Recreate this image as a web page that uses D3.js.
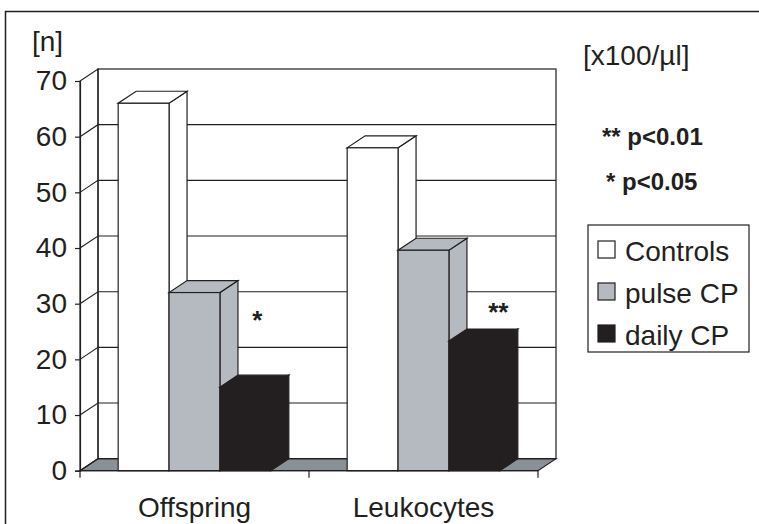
<!DOCTYPE html>
<html>
<head>
<meta charset="utf-8">
<script src="https://cdn.jsdelivr.net/npm/d3@7"></script>
<style>
body { margin: 0; background: #fff; }
text { font-family: "Liberation Sans", Arial, sans-serif; fill: #231f20; }
</style>
</head>
<body>
<div id="chart-area"></div>
<script>
// data
let categories = ["Offspring", "Leukocytes"];
let seriesNames = ["Controls", "pulse CP", "daily CP"];
let controls = [66, 58];
let pulseCP = [32, 39.6];
let dailyCP = [15, 23.3];
let stars = ["*", "**"];
let yTicks = [0, 10, 20, 30, 40, 50, 60, 70];

let colors = ["#ffffff", "#b4bac0", "#231f20"];
let series = [controls, pulseCP, dailyCP];

let width = 759, height = 524;
let depthX = 18, depthY = -12;

let svg = d3.select("#chart-area").append("svg")
	.attr("width", width)
	.attr("height", height);

// outer frame (top and left edges visible)
svg.append("path")
	.attr("d", "M5.5,524 L5.5,11.5 L759,11.5")
	.attr("fill", "none")
	.attr("stroke", "#231f20")
	.attr("stroke-width", 1.5);

let y = d3.scaleLinear().domain([0, 70]).range([470.7, 81]);
let x = d3.scaleBand().domain(categories).range([80, 538]).paddingInner(0).paddingOuter(0);

let barW = x.bandwidth() / 4.5;
let gap = barW * 0.75;

let x0 = x.range()[0], x1 = x.range()[1];
let yTop = y(70), yBot = y(0);

// floor
svg.append("polygon")
	.attr("points", [[x0, yBot], [x1, yBot], [x1 + depthX, yBot + depthY], [x0 + depthX, yBot + depthY]].join(" "))
	.attr("fill", "#8a9196")
	.attr("stroke", "#231f20")
	.attr("stroke-width", 1.2);

// back wall and side wall
svg.append("rect")
	.attr("x", x0 + depthX)
	.attr("y", yTop + depthY)
	.attr("width", x1 - x0)
	.attr("height", yBot - yTop)
	.attr("fill", "none")
	.attr("stroke", "#231f20")
	.attr("stroke-width", 1.2);

svg.append("polygon")
	.attr("points", [[x0, yBot], [x0, yTop], [x0 + depthX, yTop + depthY], [x0 + depthX, yBot + depthY]].join(" "))
	.attr("fill", "none")
	.attr("stroke", "#231f20")
	.attr("stroke-width", 1.2);

// gridlines on both walls
svg.selectAll(".grid").data(yTicks.slice(1, -1)).enter()
	.append("polyline")
	.attr("class", "grid")
	.attr("points", d => [[x0, y(d)], [x0 + depthX, y(d) + depthY], [x1 + depthX, y(d) + depthY]].join(" "))
	.attr("fill", "none")
	.attr("stroke", "#231f20")
	.attr("stroke-width", 1.1);

// bars, drawn left to right so later fronts cover earlier sides
let bars = [];
categories.forEach((c, i) => {
	series.forEach((s, j) => {
		bars.push({cat: c, v: s[i], k: j});
	});
});

let barG = svg.selectAll(".bar").data(bars).enter()
	.append("g")
	.attr("class", "bar");

barG.each(function(d) {
	let g = d3.select(this);
	let left = x(d.cat) + gap + d.k * barW;
	let right = left + barW;
	let top = y(d.v);
	let fill = colors[d.k];

	g.append("polygon")
		.attr("points", [[right, yBot], [right, top], [right + depthX, top + depthY], [right + depthX, yBot + depthY]].join(" "))
		.attr("fill", fill)
		.attr("stroke", "#231f20")
		.attr("stroke-width", 1.2);

	g.append("polygon")
		.attr("points", [[left, top], [right, top], [right + depthX, top + depthY], [left + depthX, top + depthY]].join(" "))
		.attr("fill", fill)
		.attr("stroke", "#231f20")
		.attr("stroke-width", 1.2);

	g.append("rect")
		.attr("x", left)
		.attr("y", top)
		.attr("width", barW)
		.attr("height", yBot - top)
		.attr("fill", fill)
		.attr("stroke", "#231f20")
		.attr("stroke-width", 1.2);
});

// y axis
let yAxis = d3.axisLeft(y).tickValues(yTicks).tickSize(5).tickPadding(8);
let yg = svg.append("g")
	.attr("transform", "translate(" + x0 + ",0)")
	.call(yAxis);
yg.select(".domain").attr("stroke", "#231f20").attr("stroke-width", 1.2);
yg.selectAll(".tick line").attr("stroke", "#231f20").attr("stroke-width", 1.2);
yg.selectAll(".tick text")
	.style("font-size", "28px")
	.attr("fill", "#231f20")
	.attr("font-family", null);

// x axis
let xg = svg.append("g")
	.attr("transform", "translate(0," + yBot + ")");
xg.append("line")
	.attr("x1", x0).attr("x2", x1)
	.attr("stroke", "#231f20").attr("stroke-width", 1.2);
let edges = categories.map(c => x(c)).concat([x1]);
xg.selectAll(".xtick").data(edges).enter()
	.append("line")
	.attr("x1", d => d).attr("x2", d => d)
	.attr("y1", 0).attr("y2", 7)
	.attr("stroke", "#231f20").attr("stroke-width", 1.2);
xg.selectAll(".xlabel").data(categories).enter()
	.append("text")
	.attr("x", d => x(d) + x.bandwidth() / 2)
	.attr("y", 46)
	.attr("text-anchor", "middle")
	.style("font-size", "28px")
	.text(d => d);

// significance stars next to the daily CP bars (placed by hand in the original)
let starLevel = [28.1, 29.5];
let starShift = [0, 12];
svg.selectAll(".star").data(stars).enter()
	.append("text")
	.attr("x", (d, i) => x(categories[i]) + gap + 2.5 * barW + depthX / 2 + 3 + starShift[i])
	.attr("y", (d, i) => y(starLevel[i]) + 15)
	.attr("text-anchor", "middle")
	.style("font-size", "26px")
	.style("font-weight", "bold")
	.text(d => d);

// unit labels
svg.append("text").attr("x", 32).attr("y", 51).style("font-size", "28px").text("[n]");
svg.append("text").attr("x", 583).attr("y", 65).style("font-size", "28px").text("[x100/µl]");

svg.append("text").attr("x", 602).attr("y", 145)
	.style("font-size", "24px").style("font-weight", "bold").text("** p<0.01");
svg.append("text").attr("x", 606).attr("y", 190)
	.style("font-size", "24px").style("font-weight", "bold").text("* p<0.05");

// legend
let legend = svg.append("g").attr("transform", "translate(588,225)");
legend.append("rect")
	.attr("width", 161).attr("height", 127)
	.attr("fill", "#fff")
	.attr("stroke", "#231f20")
	.attr("stroke-width", 1.2);
let items = legend.selectAll(".item").data(seriesNames).enter()
	.append("g")
	.attr("transform", (d, i) => "translate(10," + (16 + i * 42) + ")");
items.append("rect")
	.attr("width", 17).attr("height", 17)
	.attr("fill", (d, i) => colors[i])
	.attr("stroke", "#231f20")
	.attr("stroke-width", 1.2);
items.append("text")
	.attr("x", 27).attr("y", 20)
	.style("font-size", "28px")
	.text(d => d);
</script>
</body>
</html>
